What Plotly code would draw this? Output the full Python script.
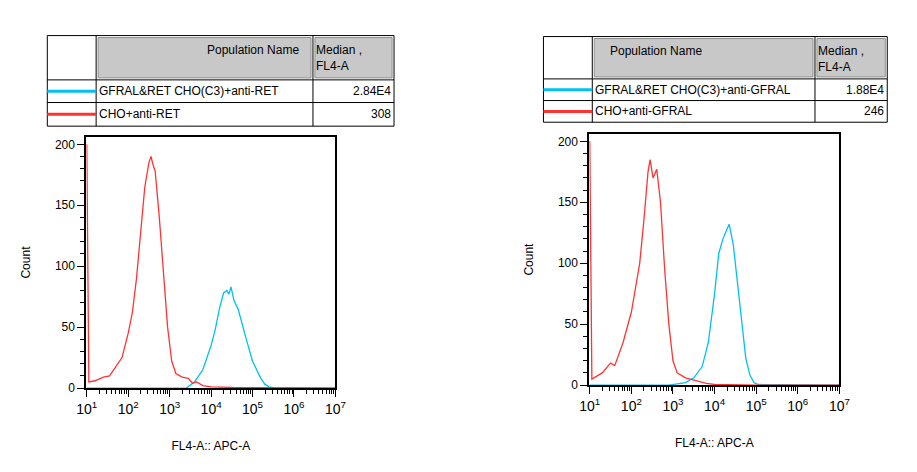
import plotly.graph_objects as go

W, H = 917, 472
OFF = 8  # page body margin in the browser

# ---------------- data (log10 of FL4-A, count) ----------------
left_red_log = [1.0, 1.02, 1.03, 1.05, 1.2, 1.4, 1.55, 1.7, 1.85, 2.0, 2.1, 2.2, 2.3, 2.4, 2.5, 2.55,
                2.6, 2.65, 2.75, 2.85, 2.95, 3.05, 3.15, 3.3, 3.45, 3.55, 3.65, 3.8, 4.0, 4.5, 5.0, 6.0, 7.0]
left_red_cnt = [200, 120, 30, 5, 6, 9, 10, 18, 25, 45, 62, 90, 130, 165, 185, 190,
                183, 178, 140, 95, 50, 22, 12, 9, 8, 4, 5, 2, 1, 0.5, 0.3, 0, 0]
left_blue_log = [1.0, 3.4, 3.6, 3.8, 4.0, 4.1, 4.2, 4.3, 4.38, 4.43, 4.48, 4.55, 4.65, 4.75, 4.85,
                 5.0, 5.1, 5.2, 5.3, 5.4, 5.5, 7.0]
left_blue_cnt = [0, 0, 5, 15, 35, 48, 65, 78, 80, 77, 83, 72, 65, 52, 40,
                 22, 15, 8, 3, 1, 0.3, 0]

right_red_log = [1.0, 1.02, 1.03, 1.05, 1.3, 1.5, 1.6, 1.8, 2.0, 2.2, 2.3, 2.4, 2.45, 2.52, 2.61,
                 2.7, 2.8, 2.9, 3.0, 3.1, 3.3, 3.5, 3.8, 4.0, 5.0, 7.0]
right_red_cnt = [200, 120, 30, 5, 10, 18, 16, 35, 60, 100, 135, 175, 185, 170, 177,
                 150, 95, 50, 20, 10, 6, 4, 1.5, 0.5, 0, 0]
right_blue_log = [1.0, 2.9, 3.3, 3.5, 3.7, 3.85, 4.0, 4.05, 4.1, 4.2, 4.3, 4.35, 4.45, 4.55, 4.65,
                  4.75, 4.85, 4.95, 5.05, 7.0]
right_blue_cnt = [0, 0, 2, 6, 15, 35, 75, 95, 108, 120, 128, 132, 115, 85, 50,
                  22, 8, 2, 0.5, 0]

left_rows = ["GFRAL&RET CHO(C3)+anti-RET", "CHO+anti-RET"]
left_medians = ["2.84E4", "308"]
right_rows = ["GFRAL&RET CHO(C3)+anti-GFRAL", "CHO+anti-GFRAL"]
right_medians = ["1.88E4", "246"]

decades = [1, 2, 3, 4, 5, 6, 7]
y_ticks = [0, 50, 100, 150, 200]

BLUE = "#00c0f0"
RED = "#ff3333"
FONT = "Liberation Sans, Arial, sans-serif"

FW, FH = W - 2 * OFF, H - 2 * OFF


def px(x):
    return (x - OFF) / FW


def py(y):
    return 1 - (y - OFF) / FH


fig = go.Figure()

panels = [
    # plot box (l, r, t, b), table (l, c1, c2, r, t, r1, r2, b)
    dict(xa="x", ya="y", box=(78, 333, 139, 394),
         tab=(38, 88, 310, 393, 36, 81, 104, 128),
         red=(left_red_log, left_red_cnt), blue=(left_blue_log, left_blue_cnt),
         rows=left_rows, med=left_medians),
    dict(xa="x2", ya="y2", box=(593, 849, 136, 391),
         tab=(546, 596, 824, 898, 37, 80, 102, 124),
         red=(right_red_log, right_red_cnt), blue=(right_blue_log, right_blue_cnt),
         rows=right_rows, med=right_medians),
]

minor_vals = [m * 10 ** d for d in range(0, 8) for m in range(2, 10)]
shapes, annos = [], []

for i, p in enumerate(panels):
    bx, by = p["blue"]
    rx, ry = p["red"]
    fig.add_trace(go.Scatter(x=[10 ** v for v in bx], y=by, mode="lines",
                             line=dict(color=BLUE, width=1.3),
                             xaxis=p["xa"], yaxis=p["ya"], showlegend=False))
    fig.add_trace(go.Scatter(x=[10 ** v for v in rx], y=ry, mode="lines",
                             line=dict(color=RED, width=1.3),
                             xaxis=p["xa"], yaxis=p["ya"], showlegend=False))

    l, r, t, b = p["box"]
    sfx = "" if i == 0 else "2"
    fig.update_layout(**{
        "xaxis" + sfx: dict(type="log", range=[0.99, 7.0], domain=[px(l), px(r)],
                            anchor="y" + sfx, tickvals=[10 ** d for d in decades],
                            ticktext=["10<sup>%d</sup>" % d for d in decades],
                            tickfont=dict(size=14),
                            ticks="outside", ticklen=7, tickcolor="black",
                            minor=dict(tickvals=minor_vals, ticks="outside", ticklen=4,
                                       tickcolor="black"),
                            showline=True, linecolor="black", linewidth=2, mirror=True,
                            showgrid=False, zeroline=False,
                            title=dict(text="FL4-A:: APC-A", standoff=26,
                                       font=dict(size=12))),
        "yaxis" + sfx: dict(range=[0, 206], domain=[py(b), py(t)], anchor="x" + sfx,
                            tickvals=y_ticks, ticks="outside", ticklen=7, tickcolor="black",
                            tickfont=dict(size=12),
                            minor=dict(dtick=10, ticks="outside", ticklen=4,
                                       tickcolor="black"),
                            showline=True, linecolor="black", linewidth=2, mirror=True,
                            showgrid=False, zeroline=False,
                            title=dict(text="Count", standoff=22, font=dict(size=12))),
    })

    # table
    tl, c1, c2, tr, tt, r1, r2, tb = p["tab"]
    shapes.append(dict(type="rect", xref="paper", yref="paper",
                       x0=px(c1 + 2), x1=px(c2 - 2), y0=py(r1 - 2), y1=py(tt + 2),
                       fillcolor="#c8c8c8", line=dict(color="#909090", width=1)))
    shapes.append(dict(type="rect", xref="paper", yref="paper",
                       x0=px(c2 + 2), x1=px(tr - 2), y0=py(r1 - 2), y1=py(tt + 2),
                       fillcolor="#c8c8c8", line=dict(color="#909090", width=1)))
    shapes.append(dict(type="rect", xref="paper", yref="paper",
                       x0=px(tl), x1=px(tr), y0=py(tb), y1=py(tt),
                       line=dict(color="black", width=1)))
    for yy in (r1, r2):
        shapes.append(dict(type="line", xref="paper", yref="paper",
                           x0=px(tl), x1=px(tr), y0=py(yy), y1=py(yy),
                           line=dict(color="black", width=1)))
    for xx in (c1, c2):
        shapes.append(dict(type="line", xref="paper", yref="paper",
                           x0=px(xx), x1=px(xx), y0=py(tb), y1=py(tt),
                           line=dict(color="black", width=1)))
    for k, (col, ya, yb) in enumerate([(BLUE, r1, r2), (RED, r2, tb)]):
        ym = (ya + yb) / 2
        shapes.append(dict(type="line", xref="paper", yref="paper",
                           x0=px(tl), x1=px(c1), y0=py(ym), y1=py(ym),
                           line=dict(color=col, width=3)))
        annos.append(dict(xref="paper", yref="paper", x=px(c1 + 1), y=py(ym),
                          yanchor="middle", text=p["rows"][k], showarrow=False,
                          xanchor="left", font=dict(size=12, color="black")))
        annos.append(dict(xref="paper", yref="paper", x=px(tr - 1), y=py(ym),
                          yanchor="middle", text=p["med"][k], showarrow=False,
                          xanchor="right", font=dict(size=12, color="black")))
    annos.append(dict(xref="paper", yref="paper", x=px((c1 + c2) / 2), y=py(tt + 15),
                      yanchor="middle", text="Population Name", showarrow=False,
                      font=dict(size=12)))
    annos.append(dict(xref="paper", yref="paper", x=px(c2 + 1), y=py(tt + 23),
                      yanchor="middle", text="Median ,<br>FL4-A", showarrow=False,
                      xanchor="left", align="left", font=dict(size=12)))

fig.update_layout(width=FW, height=FH, margin=dict(l=0, r=0, t=0, b=0),
                  plot_bgcolor="white", paper_bgcolor="white",
                  font=dict(family=FONT, size=12, color="black"),
                  shapes=shapes, annotations=annos)

fig.write_html("out.html")
